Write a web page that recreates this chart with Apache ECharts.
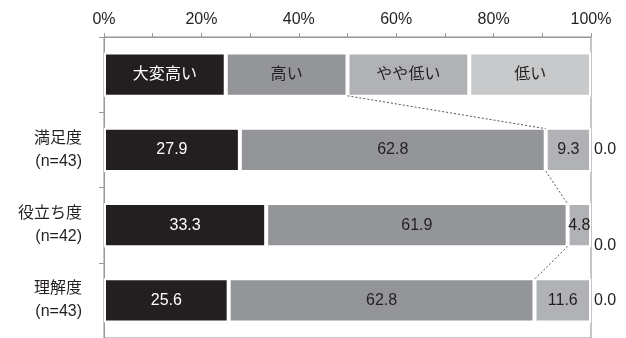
<!DOCTYPE html>
<html>
<head>
<meta charset="utf-8">
<script src="https://cdn.jsdelivr.net/npm/echarts@6/dist/echarts.min.js"></script>
<style>
html,body{margin:0;padding:0;background:#fff;}
#c{width:626px;height:338px;}
</style>
</head>
<body>
<div id="c"></div>
<script>
const categories = ['', '満足度\n(n=43)', '役立ち度\n(n=42)', '理解度\n(n=43)'];
const seriesNames = ['大変高い', '高い', 'やや低い', '低い'];
const legendRow = [25, 25, 25, 25];
const veryHigh = [27.9, 33.3, 25.6];
const high = [62.8, 61.9, 62.8];
const slightlyLow = [9.3, 4.8, 11.6];
const low = [0.0, 0.0, 0.0];
const xTickLabels = ['0%', '20%', '40%', '60%', '80%', '100%'];

const colors = ['#231f20', '#939598', '#b0b2b5', '#c8c9cb'];
const textColors = ['#ffffff', '#231f20', '#231f20', '#231f20'];
const FONT = '"Liberation Sans", "Noto Sans CJK JP", sans-serif';
const BAR_RATIO = 0.59;
const rows = [veryHigh, high, slightlyLow, low];

function buildData(si) {
  const out = [{
    value: legendRow[si],
    label: { formatter: seriesNames[si] }
  }];
  rows[si].forEach((v, i) => {
    const item = { value: v };
    if (v === 0) {
      item.itemStyle = { borderWidth: 0 };
      item.label = { position: 'right', distance: 3, color: '#231f20',
                     offset: i === 1 ? [0, 20] : [0, 0] };
    }
    out.push(item);
  });
  return out;
}

const barSeries = seriesNames.map((name, si) => ({
  name: name,
  type: 'bar',
  stack: 'total',
  barWidth: (BAR_RATIO * 100) + '%',
  data: buildData(si),
  itemStyle: { color: colors[si], borderColor: '#ffffff', borderWidth: 2 },
  label: {
    show: true,
    position: 'inside',
    color: textColors[si],
    fontFamily: FONT,
    fontSize: 16,
    formatter: p => Number(p.value).toFixed(1)
  },
  z: 2
}));

// series lines connecting the end of "高い" segments
const cum = [legendRow[0] + legendRow[1]].concat(veryHigh.map((v, i) => +(v + high[i]).toFixed(1)));
const lineData = [];
for (let i = 0; i < cum.length - 1; i++) {
  lineData.push([cum[i], i, cum[i + 1], i + 1]);
}

const linkSeries = {
  type: 'custom',
  data: lineData,
  encode: { x: [0, 2], y: [1, 3] },
  z: 5,
  silent: true,
  renderItem: function (params, api) {
    const p1 = api.coord([api.value(0), api.value(1)]);
    const p2 = api.coord([api.value(2), api.value(3)]);
    const band = api.size([0, 1])[1];
    const half = band * BAR_RATIO / 2 - 1;
    return {
      type: 'line',
      shape: { x1: p1[0], y1: p1[1] + half, x2: p2[0], y2: p2[1] - half },
      style: { stroke: '#555555', lineWidth: 1, lineDash: [2, 2] }
    };
  }
};

const chart = echarts.init(document.getElementById('c'), null, { renderer: 'canvas' });
chart.setOption({
  animation: false,
  backgroundColor: '#ffffff',
  grid: {
    left: 104, right: 35, top: 37, height: 303,
    show: true, borderColor: '#8e8e8e', borderWidth: 1, backgroundColor: 'transparent'
  },
  xAxis: {
    type: 'value',
    position: 'top',
    min: 0, max: 100, interval: 10,
    axisLine: { show: true, lineStyle: { color: '#9a9a9a', width: 1 } },
    axisTick: { show: true, length: 4, lineStyle: { color: '#9a9a9a' } },
    splitLine: { show: false },
    axisLabel: {
      margin: 9,
      color: '#231f20',
      fontFamily: FONT,
      fontSize: 16,
      formatter: v => (v % 20 === 0 ? xTickLabels[v / 20] : '')
    }
  },
  yAxis: {
    type: 'category',
    inverse: true,
    data: categories,
    axisLine: { show: true, lineStyle: { color: '#9a9a9a', width: 1 } },
    axisTick: { show: true, length: 5, lineStyle: { color: '#9a9a9a' } },
    axisLabel: {
      margin: 22,
      color: '#231f20',
      fontFamily: FONT,
      fontSize: 16,
      lineHeight: 23,
      align: 'right'
    }
  },
  series: barSeries.concat([linkSeries])
});
</script>
</body>
</html>
